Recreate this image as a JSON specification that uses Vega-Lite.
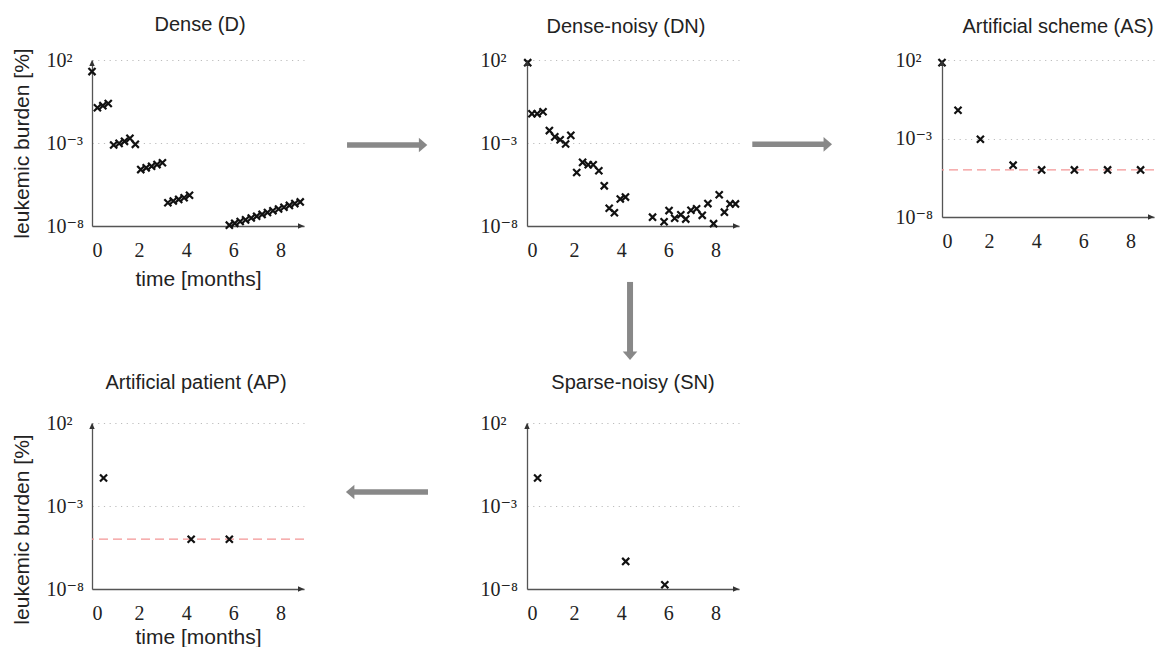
{
  "$schema": "https://vega.github.io/schema/vega-lite/v6.json",
  "padding": {"left": 11, "top": 14, "right": 0, "bottom": 0},
  "config": {
    "view": {"stroke": null},
    "font": "Liberation Sans",
    "axis": {"domainColor": "#555555", "domainWidth": 1.3, "ticks": false, "tickSize": 0, "labelFont": "Liberation Serif, DejaVu Serif", "labelFontSize": 20, "labelColor": "#222222", "titleFont": "Liberation Sans", "titleFontSize": 21, "titleFontWeight": "normal", "titleColor": "#222222", "grid": false, "labelOverlap": false},
    "title": {"font": "Liberation Sans", "fontSize": 20, "fontWeight": "normal", "color": "#222222"}
  },
  "datasets": {
    "D": [{"t":0,"v":20},
      {"t":0.23,"v":0.132},{"t":0.46,"v":0.178},{"t":0.69,"v":0.24},
      {"t":0.92,"v":0.00076},{"t":1.15,"v":0.00095},{"t":1.38,"v":0.00126},{"t":1.61,"v":0.0019},{"t":1.84,"v":0.00083},
      {"t":2.07,"v":2.5e-5},{"t":2.3,"v":3.2e-5},{"t":2.53,"v":4.0e-5},{"t":2.76,"v":5.0e-5},{"t":2.99,"v":6.5e-5},
      {"t":3.22,"v":2.5e-7},{"t":3.45,"v":3.2e-7},{"t":3.68,"v":4.0e-7},{"t":3.91,"v":5.0e-7},{"t":4.14,"v":7.1e-7},
      {"t":5.83,"v":1.12e-8},{"t":6.06,"v":1.45e-8},{"t":6.29,"v":1.86e-8},{"t":6.52,"v":2.34e-8},{"t":6.76,"v":3.02e-8},{"t":6.99,"v":3.89e-8},{"t":7.22,"v":5.0e-8},{"t":7.45,"v":6.46e-8},{"t":7.68,"v":8.3e-8},{"t":7.92,"v":1.05e-7},{"t":8.15,"v":1.35e-7},{"t":8.38,"v":1.74e-7},{"t":8.61,"v":2.24e-7},{"t":8.84,"v":2.82e-7}],
    "DN": [{"t":0.03,"v":69},
      {"t":0.21,"v":0.0575},{"t":0.43,"v":0.0575},{"t":0.68,"v":0.076},
      {"t":0.95,"v":0.0056},{"t":1.18,"v":0.00234},{"t":1.41,"v":0.00158},{"t":1.64,"v":0.00087},{"t":1.86,"v":0.00288},
      {"t":2.11,"v":1.66e-5},{"t":2.36,"v":6.8e-5},{"t":2.6,"v":4.9e-5},{"t":2.81,"v":4.9e-5},{"t":3.05,"v":2.14e-5},
      {"t":3.28,"v":2.63e-6},{"t":3.49,"v":1.17e-7},{"t":3.71,"v":6.3e-8},{"t":3.96,"v":4.2e-7},{"t":4.18,"v":5.5e-7},
      {"t":5.33,"v":3.4e-8},{"t":5.82,"v":1.8e-8},{"t":6.03,"v":8.5e-8},{"t":6.27,"v":2.95e-8},{"t":6.53,"v":4.8e-8},{"t":6.74,"v":2.6e-8},{"t":6.96,"v":8.9e-8},{"t":7.2,"v":1.1e-7},{"t":7.44,"v":4.4e-8},{"t":7.68,"v":2.24e-7},{"t":7.92,"v":1.38e-8},{"t":8.16,"v":7.6e-7},{"t":8.38,"v":6.8e-8},{"t":8.62,"v":2.14e-7},{"t":8.85,"v":2.14e-7}],
    "AS": [{"t":0,"v":68},{"t":0.68,"v":0.063},{"t":1.63,"v":0.00089},{"t":3.02,"v":2.0e-5},{"t":4.23,"v":1e-5},{"t":5.62,"v":1e-5},{"t":7.03,"v":1e-5},{"t":8.43,"v":1e-5}],
    "AP": [{"t":0.49,"v":0.049},{"t":4.21,"v":1e-5},{"t":5.83,"v":1e-5}],
    "SN": [{"t":0.45,"v":0.049},{"t":4.19,"v":4.6e-7},{"t":5.85,"v":1.8e-8}]
  },
  "columns": 5,
  "spacing": 0,
  "bounds": "flush",
  "align": "each",
  "concat": [
    {
      "width": 212, "height": 166,
      "title": {"text": "Dense (D)", "frame": "group", "dx": 2, "offset": -3, "baseline": "alphabetic"},
      "layer": [
        {"data": {"name": "D"}, "mark": {"type": "point", "shape": "M-1,-1L1,1M-1,1L1,-1", "filled": false, "color": "#111111", "strokeWidth": 2.2, "size": 50, "opacity": 1},
         "encoding": {
           "x": {"field": "t", "type": "quantitative", "scale": {"domain": [0, 9], "nice": false}, "axis": {"values": [0, 2, 4, 6, 8], "labelPadding": 14, "labelAngle": 0, "title": "time [months]", "titlePadding": 8}},
           "y": {"field": "v", "type": "quantitative", "scale": {"type": "log", "domain": [1e-8, 100], "nice": false}, "axis": {"values": [100, 0.001, 1e-8], "labelExpr": "datum.value > 1 ? '10²' : datum.value > 1e-5 ? '10⁻³' : '10⁻⁸'", "labelAlign": "left", "labelPadding": 46, "labelBaseline": "middle", "grid": true, "gridDash": [1.2, 4.5], "gridColor": "#bdbdbd", "gridWidth": 1, "title": "leukemic burden [%]", "titlePadding": 14}}}},
        {"data": {"values": [{}]}, "mark": {"type": "point", "shape": "M0,0L-1,-0.45L-1,0.45Z", "filled": true, "color": "#333333", "size": 144, "opacity": 1}, "encoding": {"x": {"datum": 9}, "y": {"datum": 1e-8}}},
        {"data": {"values": [{}]}, "mark": {"type": "point", "shape": "M0,0L-0.45,1L0.45,1Z", "filled": true, "color": "#333333", "size": 144, "opacity": 1}, "encoding": {"x": {"datum": 0}, "y": {"datum": 100}}}
      ]
    },
    {
      "width": 223, "height": 166, "data": {"values": [{}]},
      "layer": [
        {"mark": {"type": "rule", "color": "#888888", "strokeWidth": 5.5}, "encoding": {"x": {"datum": 0.193, "type": "quantitative", "scale": {"domain": [0, 1]}, "axis": null}, "x2": {"datum": 0.52}, "y": {"datum": 0.488, "type": "quantitative", "scale": {"domain": [0, 1]}, "axis": null}}},
        {"mark": {"type": "point", "shape": "M-0.58,-1L0.58,0L-0.58,1Z", "filled": true, "color": "#888888", "size": 213, "opacity": 1}, "encoding": {"x": {"datum": 0.534}, "y": {"datum": 0.488}}}
      ]
    },
    {
      "width": 212, "height": 166,
      "title": {"text": "Dense-noisy (DN)", "frame": "group", "dx": -7, "offset": -3, "baseline": "alphabetic"},
      "layer": [
        {"data": {"name": "DN"}, "mark": {"type": "point", "shape": "M-1,-1L1,1M-1,1L1,-1", "filled": false, "color": "#111111", "strokeWidth": 2.2, "size": 50, "opacity": 1},
         "encoding": {
           "x": {"field": "t", "type": "quantitative", "scale": {"domain": [0, 9], "nice": false}, "axis": {"values": [0, 2, 4, 6, 8], "labelPadding": 14, "labelAngle": 0, "title": null}},
           "y": {"field": "v", "type": "quantitative", "scale": {"type": "log", "domain": [1e-8, 100], "nice": false}, "axis": {"values": [100, 0.001, 1e-8], "labelExpr": "datum.value > 1 ? '10²' : datum.value > 1e-5 ? '10⁻³' : '10⁻⁸'", "labelAlign": "left", "labelPadding": 47, "labelBaseline": "middle", "grid": true, "gridDash": [1.2, 4.5], "gridColor": "#bdbdbd", "gridWidth": 1, "title": null}}}},
        {"data": {"values": [{}]}, "mark": {"type": "point", "shape": "M0,0L-1,-0.45L-1,0.45Z", "filled": true, "color": "#333333", "size": 144, "opacity": 1}, "encoding": {"x": {"datum": 9}, "y": {"datum": 1e-8}}},
        {"data": {"values": [{}]}, "mark": {"type": "point", "shape": "M0,0L-0.45,1L0.45,1Z", "filled": true, "color": "#333333", "size": 144, "opacity": 1}, "encoding": {"x": {"datum": 0}, "y": {"datum": 100}}}
      ]
    },
    {
      "width": 203, "height": 166, "data": {"values": [{}]},
      "layer": [
        {"mark": {"type": "rule", "color": "#888888", "strokeWidth": 5.5}, "encoding": {"x": {"datum": 0.0655, "type": "quantitative", "scale": {"domain": [0, 1]}, "axis": null}, "x2": {"datum": 0.4187}, "y": {"datum": 0.492, "type": "quantitative", "scale": {"domain": [0, 1]}, "axis": null}}},
        {"mark": {"type": "point", "shape": "M-0.58,-1L0.58,0L-0.58,1Z", "filled": true, "color": "#888888", "size": 213, "opacity": 1}, "encoding": {"x": {"datum": 0.4374}, "y": {"datum": 0.492}}}
      ]
    },
    {
      "width": 212, "height": 157,
      "title": {"text": "Artificial scheme (AS)", "frame": "group", "dx": 10, "offset": -3, "baseline": "alphabetic"},
      "layer": [
        {"data": {"values": [{}]}, "mark": {"type": "rule", "color": "#f49595", "strokeDash": [9, 5], "strokeWidth": 1.3}, "encoding": {"y": {"datum": 0.00001}}},
        {"data": {"name": "AS"}, "mark": {"type": "point", "shape": "M-1,-1L1,1M-1,1L1,-1", "filled": false, "color": "#111111", "strokeWidth": 2.2, "size": 50, "opacity": 1},
         "encoding": {
           "x": {"field": "t", "type": "quantitative", "scale": {"domain": [0, 9], "nice": false}, "axis": {"values": [0, 2, 4, 6, 8], "labelPadding": 14, "labelAngle": 0, "title": null}},
           "y": {"field": "v", "type": "quantitative", "scale": {"type": "log", "domain": [1e-8, 100], "nice": false}, "axis": {"values": [100, 0.001, 1e-8], "labelExpr": "datum.value > 1 ? '10²' : datum.value > 1e-5 ? '10⁻³' : '10⁻⁸'", "labelAlign": "left", "labelPadding": 47, "labelBaseline": "middle", "grid": true, "gridDash": [1.2, 4.5], "gridColor": "#bdbdbd", "gridWidth": 1, "title": null}}}},
        {"data": {"values": [{}]}, "mark": {"type": "point", "shape": "M0,0L-1,-0.45L-1,0.45Z", "filled": true, "color": "#333333", "size": 144, "opacity": 1}, "encoding": {"x": {"datum": 9}, "y": {"datum": 1e-8}}},
        {"data": {"values": [{}]}, "mark": {"type": "point", "shape": "M0,0L-0.45,1L0.45,1Z", "filled": true, "color": "#333333", "size": 144, "opacity": 1}, "encoding": {"x": {"datum": 0}, "y": {"datum": 100}}}
      ]
    },
    {"width": 1, "height": 1, "data": {"values": [{}]}, "mark": {"type": "point", "opacity": 0}},
    {"width": 1, "height": 1, "data": {"values": [{}]}, "mark": {"type": "point", "opacity": 0}},
    {
      "width": 212, "height": 197, "data": {"values": [{}]},
      "layer": [
        {"mark": {"type": "rule", "color": "#888888", "strokeWidth": 6}, "encoding": {"x": {"datum": 0.486, "type": "quantitative", "scale": {"domain": [0, 1]}, "axis": null}, "y": {"datum": 0.716, "type": "quantitative", "scale": {"domain": [0, 1]}, "axis": null}, "y2": {"datum": 0.36}}},
        {"mark": {"type": "point", "shape": "M-1,-0.58L0,0.58L1,-0.58Z", "filled": true, "color": "#888888", "size": 213, "opacity": 1}, "encoding": {"x": {"datum": 0.486}, "y": {"datum": 0.341}}}
      ]
    },
    {"width": 1, "height": 1, "data": {"values": [{}]}, "mark": {"type": "point", "opacity": 0}},
    {"width": 1, "height": 1, "data": {"values": [{}]}, "mark": {"type": "point", "opacity": 0}},
    {
      "width": 212, "height": 166,
      "title": {"text": "Artificial patient (AP)", "frame": "group", "dx": -2, "offset": 4, "baseline": "alphabetic"},
      "layer": [
        {"data": {"values": [{}]}, "mark": {"type": "rule", "color": "#f49595", "strokeDash": [9, 5], "strokeWidth": 1.3}, "encoding": {"y": {"datum": 0.00001}}},
        {"data": {"name": "AP"}, "mark": {"type": "point", "shape": "M-1,-1L1,1M-1,1L1,-1", "filled": false, "color": "#111111", "strokeWidth": 2.2, "size": 50, "opacity": 1},
         "encoding": {
           "x": {"field": "t", "type": "quantitative", "scale": {"domain": [0, 9], "nice": false}, "axis": {"values": [0, 2, 4, 6, 8], "labelPadding": 14, "labelAngle": 0, "title": "time [months]", "titlePadding": 3}},
           "y": {"field": "v", "type": "quantitative", "scale": {"type": "log", "domain": [1e-8, 100], "nice": false}, "axis": {"values": [100, 0.001, 1e-8], "labelExpr": "datum.value > 1 ? '10²' : datum.value > 1e-5 ? '10⁻³' : '10⁻⁸'", "labelAlign": "left", "labelPadding": 46, "labelBaseline": "middle", "grid": true, "gridDash": [1.2, 4.5], "gridColor": "#bdbdbd", "gridWidth": 1, "title": "leukemic burden [%]", "titlePadding": 14, "titleY": 106}}}},
        {"data": {"values": [{}]}, "mark": {"type": "point", "shape": "M0,0L-1,-0.45L-1,0.45Z", "filled": true, "color": "#333333", "size": 144, "opacity": 1}, "encoding": {"x": {"datum": 9}, "y": {"datum": 1e-8}}},
        {"data": {"values": [{}]}, "mark": {"type": "point", "shape": "M0,0L-0.45,1L0.45,1Z", "filled": true, "color": "#333333", "size": 144, "opacity": 1}, "encoding": {"x": {"datum": 0}, "y": {"datum": 100}}}
      ]
    },
    {
      "width": 223, "height": 166, "data": {"values": [{}]},
      "layer": [
        {"mark": {"type": "rule", "color": "#888888", "strokeWidth": 5.5}, "encoding": {"x": {"datum": 0.556, "type": "quantitative", "scale": {"domain": [0, 1]}, "axis": null}, "x2": {"datum": 0.224}, "y": {"datum": 0.584, "type": "quantitative", "scale": {"domain": [0, 1]}, "axis": null}}},
        {"mark": {"type": "point", "shape": "M0.58,-1L-0.58,0L0.58,1Z", "filled": true, "color": "#888888", "size": 213, "opacity": 1}, "encoding": {"x": {"datum": 0.207}, "y": {"datum": 0.584}}}
      ]
    },
    {
      "width": 212, "height": 166,
      "title": {"text": "Sparse-noisy (SN)", "frame": "group", "dx": 0, "offset": 4, "baseline": "alphabetic"},
      "layer": [
        {"data": {"name": "SN"}, "mark": {"type": "point", "shape": "M-1,-1L1,1M-1,1L1,-1", "filled": false, "color": "#111111", "strokeWidth": 2.2, "size": 50, "opacity": 1},
         "encoding": {
           "x": {"field": "t", "type": "quantitative", "scale": {"domain": [0, 9], "nice": false}, "axis": {"values": [0, 2, 4, 6, 8], "labelPadding": 14, "labelAngle": 0, "title": null}},
           "y": {"field": "v", "type": "quantitative", "scale": {"type": "log", "domain": [1e-8, 100], "nice": false}, "axis": {"values": [100, 0.001, 1e-8], "labelExpr": "datum.value > 1 ? '10²' : datum.value > 1e-5 ? '10⁻³' : '10⁻⁸'", "labelAlign": "left", "labelPadding": 47, "labelBaseline": "middle", "grid": true, "gridDash": [1.2, 4.5], "gridColor": "#bdbdbd", "gridWidth": 1, "title": null}}}},
        {"data": {"values": [{}]}, "mark": {"type": "point", "shape": "M0,0L-1,-0.45L-1,0.45Z", "filled": true, "color": "#333333", "size": 144, "opacity": 1}, "encoding": {"x": {"datum": 9}, "y": {"datum": 1e-8}}},
        {"data": {"values": [{}]}, "mark": {"type": "point", "shape": "M0,0L-0.45,1L0.45,1Z", "filled": true, "color": "#333333", "size": 144, "opacity": 1}, "encoding": {"x": {"datum": 0}, "y": {"datum": 100}}}
      ]
    }
  ]
}
